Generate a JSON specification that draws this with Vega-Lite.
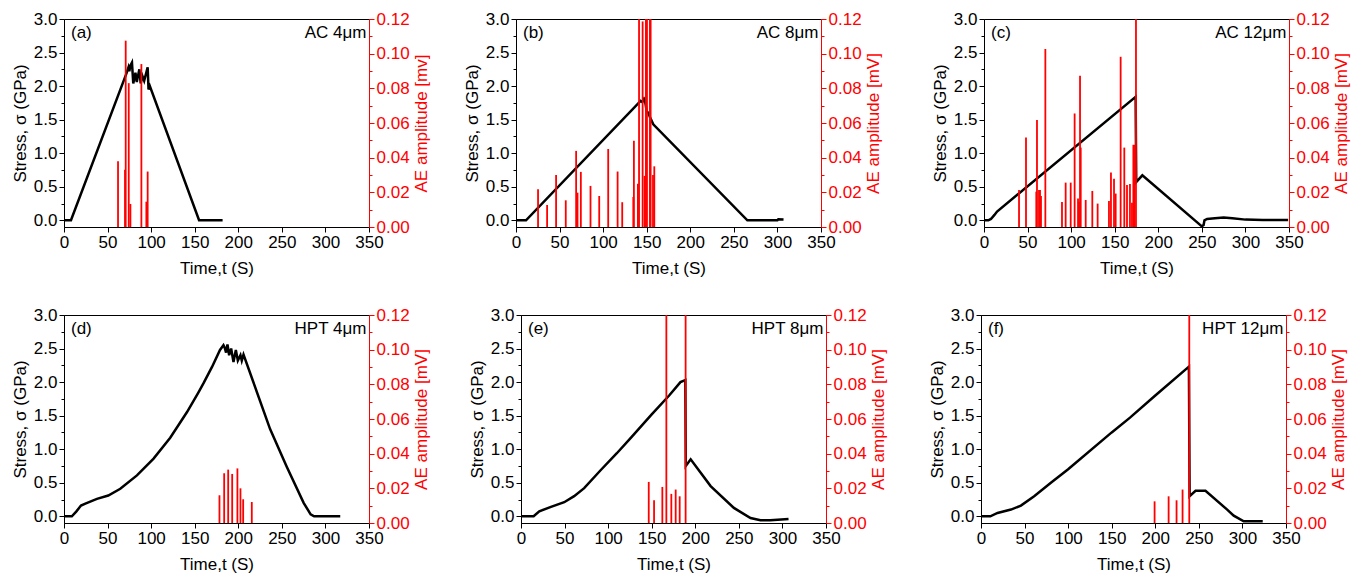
{
"$schema": "https://vega.github.io/schema/vega-lite/v6.json",
"padding": {"left": 10, "top": 9, "right": 2, "bottom": 2},
"background": "white",
"datasets": {
"stress": [
{"panel":"a","t":0,"s":0},{"panel":"a","t":8,"s":0},{"panel":"a","t":72,"s":2.2},{"panel":"a","t":74,"s":2.28},{"panel":"a","t":75,"s":2.22},{"panel":"a","t":76,"s":2.3},{"panel":"a","t":78,"s":2.35},{"panel":"a","t":79.5,"s":2.04},{"panel":"a","t":82,"s":2.2},{"panel":"a","t":83.5,"s":2.06},{"panel":"a","t":86.5,"s":2.25},{"panel":"a","t":88,"s":2.04},{"panel":"a","t":90,"s":2.15},{"panel":"a","t":92,"s":2.08},{"panel":"a","t":96,"s":2.28},{"panel":"a","t":97,"s":1.95},{"panel":"a","t":98.5,"s":2.0},{"panel":"a","t":155,"s":0},{"panel":"a","t":182,"s":0},
{"panel":"b","t":0,"s":0},{"panel":"b","t":11.5,"s":0},{"panel":"b","t":143,"s":1.78},{"panel":"b","t":145,"s":1.76},{"panel":"b","t":147,"s":1.81},{"panel":"b","t":148,"s":1.79},{"panel":"b","t":150,"s":1.62},{"panel":"b","t":152,"s":1.6},{"panel":"b","t":153,"s":1.56},{"panel":"b","t":155,"s":1.5},{"panel":"b","t":157.5,"s":1.43},{"panel":"b","t":265.5,"s":0},{"panel":"b","t":300,"s":0},{"panel":"b","t":301,"s":0.015},{"panel":"b","t":307,"s":0.012},
{"panel":"c","t":0,"s":0},{"panel":"c","t":5,"s":0},{"panel":"c","t":8,"s":0.02},{"panel":"c","t":12,"s":0.08},{"panel":"c","t":15,"s":0.13},{"panel":"c","t":174,"s":1.84},{"panel":"c","t":174.7,"s":0.57},{"panel":"c","t":181.7,"s":0.67},{"panel":"c","t":250,"s":-0.09},{"panel":"c","t":252,"s":-0.07},{"panel":"c","t":253,"s":0},{"panel":"c","t":256,"s":0.02},{"panel":"c","t":265,"s":0.03},{"panel":"c","t":275,"s":0.04},{"panel":"c","t":285,"s":0.03},{"panel":"c","t":300,"s":0.01},{"panel":"c","t":320,"s":0.005},{"panel":"c","t":349,"s":0.005},
{"panel":"d","t":0,"s":0},{"panel":"d","t":9,"s":0},{"panel":"d","t":14,"s":0.07},{"panel":"d","t":19.5,"s":0.16},{"panel":"d","t":24.5,"s":0.19},{"panel":"d","t":37.8,"s":0.26},{"panel":"d","t":50.8,"s":0.31},{"panel":"d","t":64.6,"s":0.41},{"panel":"d","t":83.7,"s":0.61},{"panel":"d","t":102.8,"s":0.86},{"panel":"d","t":121.9,"s":1.17},{"panel":"d","t":141,"s":1.55},{"panel":"d","t":154,"s":1.84},{"panel":"d","t":160,"s":1.98},{"panel":"d","t":170,"s":2.23},{"panel":"d","t":179,"s":2.48},{"panel":"d","t":183,"s":2.55},{"panel":"d","t":184.2,"s":2.52},{"panel":"d","t":186,"s":2.44},{"panel":"d","t":187.6,"s":2.56},{"panel":"d","t":189.5,"s":2.4},{"panel":"d","t":191.8,"s":2.5},{"panel":"d","t":194.5,"s":2.3},{"panel":"d","t":197.2,"s":2.48},{"panel":"d","t":199.5,"s":2.32},{"panel":"d","t":202.5,"s":2.4},{"panel":"d","t":204,"s":2.32},{"panel":"d","t":206,"s":2.41},{"panel":"d","t":236.5,"s":1.3},{"panel":"d","t":255.6,"s":0.74},{"panel":"d","t":275,"s":0.2},{"panel":"d","t":283,"s":0.03},{"panel":"d","t":287,"s":0},{"panel":"d","t":317,"s":0},
{"panel":"e","t":0,"s":0},{"panel":"e","t":14.5,"s":0},{"panel":"e","t":21,"s":0.075},{"panel":"e","t":34.4,"s":0.14},{"panel":"e","t":49.6,"s":0.21},{"panel":"e","t":61,"s":0.3},{"panel":"e","t":72.5,"s":0.42},{"panel":"e","t":91.6,"s":0.69},{"panel":"e","t":110,"s":0.94},{"panel":"e","t":126,"s":1.17},{"panel":"e","t":150,"s":1.52},{"panel":"e","t":170,"s":1.8},{"panel":"e","t":183,"s":2.0},{"panel":"e","t":188.6,"s":2.03},{"panel":"e","t":189.1,"s":0.75},{"panel":"e","t":194.7,"s":0.85},{"panel":"e","t":217.6,"s":0.45},{"panel":"e","t":244.3,"s":0.125},{"panel":"e","t":263.4,"s":-0.025},{"panel":"e","t":274.8,"s":-0.06},{"panel":"e","t":286,"s":-0.06},{"panel":"e","t":307,"s":-0.04},
{"panel":"f","t":0,"s":0},{"panel":"f","t":10.7,"s":0},{"panel":"f","t":19,"s":0.05},{"panel":"f","t":34.4,"s":0.1},{"panel":"f","t":45.8,"s":0.16},{"panel":"f","t":61,"s":0.3},{"panel":"f","t":80.2,"s":0.5},{"panel":"f","t":100,"s":0.7},{"panel":"f","t":150,"s":1.25},{"panel":"f","t":171,"s":1.47},{"panel":"f","t":200,"s":1.8},{"panel":"f","t":238.6,"s":2.23},{"panel":"f","t":239.4,"s":0.3},{"panel":"f","t":246.2,"s":0.38},{"panel":"f","t":257.6,"s":0.38},{"panel":"f","t":282.5,"s":0.1},{"panel":"f","t":290,"s":0.01},{"panel":"f","t":301.5,"s":-0.075},{"panel":"f","t":323.3,"s":-0.075}
],
"ae": [
{"panel":"a","t":62,"amp":0.038},{"panel":"a","t":70,"amp":0.033},{"panel":"a","t":70.8,"amp":0.1075},{"panel":"a","t":74.3,"amp":0.083},{"panel":"a","t":76.2,"amp":0.0133},{"panel":"a","t":88.8,"amp":0.094},{"panel":"a","t":94.5,"amp":0.0146},{"panel":"a","t":96,"amp":0.032},
{"panel":"b","t":25.3,"amp":0.0218},{"panel":"b","t":35.7,"amp":0.0127},{"panel":"b","t":46,"amp":0.03},{"panel":"b","t":57.1,"amp":0.0154},{"panel":"b","t":69,"amp":0.0439},{"panel":"b","t":70.6,"amp":0.0198},{"panel":"b","t":74.4,"amp":0.0318},{"panel":"b","t":85.5,"amp":0.0237},{"panel":"b","t":95.5,"amp":0.0179},{"panel":"b","t":105.8,"amp":0.045},{"panel":"b","t":116.6,"amp":0.032},{"panel":"b","t":121.9,"amp":0.0143},{"panel":"b","t":134.6,"amp":0.0173},{"panel":"b","t":135.3,"amp":0.0497},{"panel":"b","t":139.9,"amp":0.025},{"panel":"b","t":141.2,"amp":0.12},{"panel":"b","t":145.3,"amp":0.1186},{"panel":"b","t":147.6,"amp":0.0295},{"panel":"b","t":149.1,"amp":0.12},{"panel":"b","t":150.3,"amp":0.12},{"panel":"b","t":153.7,"amp":0.12},{"panel":"b","t":154.5,"amp":0.12},{"panel":"b","t":157.2,"amp":0.03},{"panel":"b","t":158.7,"amp":0.035},
{"panel":"c","t":40.2,"amp":0.0214},{"panel":"c","t":48.2,"amp":0.0516},{"panel":"c","t":60,"amp":0.0204},{"panel":"c","t":60.8,"amp":0.0618},{"panel":"c","t":63.1,"amp":0.0214},{"panel":"c","t":64.3,"amp":0.0214},{"panel":"c","t":65.4,"amp":0.0179},{"panel":"c","t":70.4,"amp":0.1027},{"panel":"c","t":89.5,"amp":0.0144},{"panel":"c","t":93.7,"amp":0.0256},{"panel":"c","t":99.5,"amp":0.0256},{"panel":"c","t":104,"amp":0.0655},{"panel":"c","t":107.9,"amp":0.0164},{"panel":"c","t":109,"amp":0.0146},{"panel":"c","t":110.2,"amp":0.0872},{"panel":"c","t":111,"amp":0.0458},{"panel":"c","t":116.7,"amp":0.0156},{"panel":"c","t":124.3,"amp":0.0208},{"panel":"c","t":130.4,"amp":0.0135},{"panel":"c","t":143.4,"amp":0.015},{"panel":"c","t":145.7,"amp":0.0314},{"panel":"c","t":149.2,"amp":0.0279},{"panel":"c","t":151.1,"amp":0.0193},{"panel":"c","t":156.8,"amp":0.0982},{"panel":"c","t":161,"amp":0.0458},{"panel":"c","t":164.1,"amp":0.0243},{"panel":"c","t":167.5,"amp":0.0248},{"panel":"c","t":169.8,"amp":0.014},{"panel":"c","t":171.4,"amp":0.0474},{"panel":"c","t":172.5,"amp":0.0474},{"panel":"c","t":174.4,"amp":0.12},
{"panel":"d","t":178.4,"amp":0.016},{"panel":"d","t":183.8,"amp":0.0287},{"panel":"d","t":188.4,"amp":0.0308},{"panel":"d","t":193,"amp":0.0283},{"panel":"d","t":199,"amp":0.0315},{"panel":"d","t":202.5,"amp":0.02},{"panel":"d","t":205.6,"amp":0.0137},{"panel":"d","t":215.5,"amp":0.0121},
{"panel":"e","t":146.6,"amp":0.0237},{"panel":"e","t":152.7,"amp":0.0131},{"panel":"e","t":162.2,"amp":0.0208},{"panel":"e","t":166.8,"amp":0.12},{"panel":"e","t":172.5,"amp":0.0168},{"panel":"e","t":177.5,"amp":0.0193},{"panel":"e","t":182.1,"amp":0.0154},{"panel":"e","t":188.9,"amp":0.12},
{"panel":"f","t":199.2,"amp":0.0125},{"panel":"f","t":215.3,"amp":0.0154},{"panel":"f","t":224.4,"amp":0.0131},{"panel":"f","t":231.3,"amp":0.0193},{"panel":"f","t":239,"amp":0.12}
],
"labels": [
{"panel":"a","tag":"(a)","name":"AC 4μm"},
{"panel":"b","tag":"(b)","name":"AC 8μm"},
{"panel":"c","tag":"(c)","name":"AC 12μm"},
{"panel":"d","tag":"(d)","name":"HPT 4μm"},
{"panel":"e","tag":"(e)","name":"HPT 8μm"},
{"panel":"f","tag":"(f)","name":"HPT 12μm"}
]
},
"spacing": 28,
"vconcat": [
{"spacing": 32, "hconcat": [
{"width":305,"height":208,"resolve":{"scale":{"y":"independent"}},"layer":[
{"data":{"name":"stress"},"transform":[{"filter":"datum.panel === 'a'"}],"mark":{"type":"line","color":"black","strokeWidth":2.5,"clip":true},
"encoding":{"x":{"field":"t","type":"quantitative","scale":{"domain":[0,350],"nice":false},"axis":{"title":"Time,t (S)","values":[0,25,50,75,100,125,150,175,200,225,250,275,300,325,350],"labelExpr":"datum.value % 50 === 0 ? datum.label : ''","tickSize":{"condition":{"test":"datum.value % 50 === 0","value":5},"value":3},"titlePadding":10,"format":"d"}},
"y":{"field":"s","type":"quantitative","scale":{"domain":[-0.1,3],"nice":false,"zero":false},"axis":{"orient":"left","title":"Stress, σ (GPa)","values":[0,0.25,0.5,0.75,1,1.25,1.5,1.75,2,2.25,2.5,2.75,3],"labelExpr":"(datum.value*2) % 1 === 0 ? format(datum.value, '.1f') : ''","tickSize":{"condition":{"test":"(datum.value*2) % 1 === 0","value":5},"value":3}}}}},
{"data":{"name":"ae"},"transform":[{"filter":"datum.panel === 'a'"}],"mark":{"type":"rule","color":"red","strokeWidth":1.8,"clip":true},
"encoding":{"x":{"field":"t","type":"quantitative","scale":{"domain":[0,350],"nice":false}},
"y":{"field":"amp","type":"quantitative","scale":{"domain":[0,0.12],"nice":false},"axis":{"orient":"right","title":"AE amplitude [mv]","titleAngle":270,"titleBaseline":"top","values":[0,0.01,0.02,0.03,0.04,0.05,0.06,0.07,0.08,0.09,0.1,0.11,0.12],"labelExpr":"round(datum.value*100) % 2 === 0 ? format(datum.value, '.2f') : ''","tickSize":{"condition":{"test":"round(datum.value*100) % 2 === 0","value":5},"value":3}}},
"y2":{"datum":0}}},
{"data":{"name":"labels"},"transform":[{"filter":"datum.panel === 'a'"}],"mark":{"type":"text","align":"left","baseline":"middle","fontSize":17,"font":"Liberation Sans","color":"black"},
"encoding":{"x":{"datum":8,"scale":{"domain":[0,350],"nice":false}},"y":{"datum":2.79,"scale":{"domain":[-0.1,3],"nice":false,"zero":false},"axis":null},"text":{"field":"tag"}}},
{"data":{"name":"labels"},"transform":[{"filter":"datum.panel === 'a'"}],"mark":{"type":"text","align":"right","baseline":"middle","fontSize":17,"font":"Liberation Sans","color":"black"},
"encoding":{"x":{"datum":347,"scale":{"domain":[0,350],"nice":false}},"y":{"datum":2.79,"scale":{"domain":[-0.1,3],"nice":false,"zero":false},"axis":null},"text":{"field":"name"}}}
]},
{"spacing": 48, "hconcat": [
{"width":305,"height":208,"resolve":{"scale":{"y":"independent"}},"layer":[
{"data":{"name":"stress"},"transform":[{"filter":"datum.panel === 'b'"}],"mark":{"type":"line","color":"black","strokeWidth":2.5,"clip":true},
"encoding":{"x":{"field":"t","type":"quantitative","scale":{"domain":[0,350],"nice":false},"axis":{"title":"Time,t (S)","values":[0,25,50,75,100,125,150,175,200,225,250,275,300,325,350],"labelExpr":"datum.value % 50 === 0 ? datum.label : ''","tickSize":{"condition":{"test":"datum.value % 50 === 0","value":5},"value":3},"titlePadding":10,"format":"d"}},
"y":{"field":"s","type":"quantitative","scale":{"domain":[-0.1,3],"nice":false,"zero":false},"axis":{"orient":"left","title":"Stress, σ (GPa)","values":[0,0.25,0.5,0.75,1,1.25,1.5,1.75,2,2.25,2.5,2.75,3],"labelExpr":"(datum.value*2) % 1 === 0 ? format(datum.value, '.1f') : ''","tickSize":{"condition":{"test":"(datum.value*2) % 1 === 0","value":5},"value":3}}}}},
{"data":{"name":"ae"},"transform":[{"filter":"datum.panel === 'b'"}],"mark":{"type":"rule","color":"red","strokeWidth":1.8,"clip":true},
"encoding":{"x":{"field":"t","type":"quantitative","scale":{"domain":[0,350],"nice":false}},
"y":{"field":"amp","type":"quantitative","scale":{"domain":[0,0.12],"nice":false},"axis":{"orient":"right","title":"AE amplitude [mV]","titleAngle":270,"titleBaseline":"top","values":[0,0.01,0.02,0.03,0.04,0.05,0.06,0.07,0.08,0.09,0.1,0.11,0.12],"labelExpr":"round(datum.value*100) % 2 === 0 ? format(datum.value, '.2f') : ''","tickSize":{"condition":{"test":"round(datum.value*100) % 2 === 0","value":5},"value":3}}},
"y2":{"datum":0}}},
{"data":{"name":"labels"},"transform":[{"filter":"datum.panel === 'b'"}],"mark":{"type":"text","align":"left","baseline":"middle","fontSize":17,"font":"Liberation Sans","color":"black"},
"encoding":{"x":{"datum":8,"scale":{"domain":[0,350],"nice":false}},"y":{"datum":2.79,"scale":{"domain":[-0.1,3],"nice":false,"zero":false},"axis":null},"text":{"field":"tag"}}},
{"data":{"name":"labels"},"transform":[{"filter":"datum.panel === 'b'"}],"mark":{"type":"text","align":"right","baseline":"middle","fontSize":17,"font":"Liberation Sans","color":"black"},
"encoding":{"x":{"datum":347,"scale":{"domain":[0,350],"nice":false}},"y":{"datum":2.79,"scale":{"domain":[-0.1,3],"nice":false,"zero":false},"axis":null},"text":{"field":"name"}}}
]},
{"width":305,"height":208,"resolve":{"scale":{"y":"independent"}},"layer":[
{"data":{"name":"stress"},"transform":[{"filter":"datum.panel === 'c'"}],"mark":{"type":"line","color":"black","strokeWidth":2.5,"clip":true},
"encoding":{"x":{"field":"t","type":"quantitative","scale":{"domain":[0,350],"nice":false},"axis":{"title":"Time,t (S)","values":[0,25,50,75,100,125,150,175,200,225,250,275,300,325,350],"labelExpr":"datum.value % 50 === 0 ? datum.label : ''","tickSize":{"condition":{"test":"datum.value % 50 === 0","value":5},"value":3},"titlePadding":10,"format":"d"}},
"y":{"field":"s","type":"quantitative","scale":{"domain":[-0.1,3],"nice":false,"zero":false},"axis":{"orient":"left","title":"Stress, σ (GPa)","values":[0,0.25,0.5,0.75,1,1.25,1.5,1.75,2,2.25,2.5,2.75,3],"labelExpr":"(datum.value*2) % 1 === 0 ? format(datum.value, '.1f') : ''","tickSize":{"condition":{"test":"(datum.value*2) % 1 === 0","value":5},"value":3}}}}},
{"data":{"name":"ae"},"transform":[{"filter":"datum.panel === 'c'"}],"mark":{"type":"rule","color":"red","strokeWidth":1.8,"clip":true},
"encoding":{"x":{"field":"t","type":"quantitative","scale":{"domain":[0,350],"nice":false}},
"y":{"field":"amp","type":"quantitative","scale":{"domain":[0,0.12],"nice":false},"axis":{"orient":"right","title":"AE amplitude [mV]","titleAngle":270,"titleBaseline":"top","values":[0,0.01,0.02,0.03,0.04,0.05,0.06,0.07,0.08,0.09,0.1,0.11,0.12],"labelExpr":"round(datum.value*100) % 2 === 0 ? format(datum.value, '.2f') : ''","tickSize":{"condition":{"test":"round(datum.value*100) % 2 === 0","value":5},"value":3}}},
"y2":{"datum":0}}},
{"data":{"name":"labels"},"transform":[{"filter":"datum.panel === 'c'"}],"mark":{"type":"text","align":"left","baseline":"middle","fontSize":17,"font":"Liberation Sans","color":"black"},
"encoding":{"x":{"datum":8,"scale":{"domain":[0,350],"nice":false}},"y":{"datum":2.79,"scale":{"domain":[-0.1,3],"nice":false,"zero":false},"axis":null},"text":{"field":"tag"}}},
{"data":{"name":"labels"},"transform":[{"filter":"datum.panel === 'c'"}],"mark":{"type":"text","align":"right","baseline":"middle","fontSize":17,"font":"Liberation Sans","color":"black"},
"encoding":{"x":{"datum":347,"scale":{"domain":[0,350],"nice":false}},"y":{"datum":2.79,"scale":{"domain":[-0.1,3],"nice":false,"zero":false},"axis":null},"text":{"field":"name"}}}
]}
]}
]},
{"spacing": 37, "hconcat": [
{"width":305,"height":208,"resolve":{"scale":{"y":"independent"}},"layer":[
{"data":{"name":"stress"},"transform":[{"filter":"datum.panel === 'd'"}],"mark":{"type":"line","color":"black","strokeWidth":2.5,"clip":true},
"encoding":{"x":{"field":"t","type":"quantitative","scale":{"domain":[0,350],"nice":false},"axis":{"title":"Time,t (S)","values":[0,25,50,75,100,125,150,175,200,225,250,275,300,325,350],"labelExpr":"datum.value % 50 === 0 ? datum.label : ''","tickSize":{"condition":{"test":"datum.value % 50 === 0","value":5},"value":3},"titlePadding":10,"format":"d"}},
"y":{"field":"s","type":"quantitative","scale":{"domain":[-0.1,3],"nice":false,"zero":false},"axis":{"orient":"left","title":"Stress, σ (GPa)","values":[0,0.25,0.5,0.75,1,1.25,1.5,1.75,2,2.25,2.5,2.75,3],"labelExpr":"(datum.value*2) % 1 === 0 ? format(datum.value, '.1f') : ''","tickSize":{"condition":{"test":"(datum.value*2) % 1 === 0","value":5},"value":3}}}}},
{"data":{"name":"ae"},"transform":[{"filter":"datum.panel === 'd'"}],"mark":{"type":"rule","color":"red","strokeWidth":1.8,"clip":true},
"encoding":{"x":{"field":"t","type":"quantitative","scale":{"domain":[0,350],"nice":false}},
"y":{"field":"amp","type":"quantitative","scale":{"domain":[0,0.12],"nice":false},"axis":{"orient":"right","title":"AE amplitude [mV]","titleAngle":270,"titleBaseline":"top","values":[0,0.01,0.02,0.03,0.04,0.05,0.06,0.07,0.08,0.09,0.1,0.11,0.12],"labelExpr":"round(datum.value*100) % 2 === 0 ? format(datum.value, '.2f') : ''","tickSize":{"condition":{"test":"round(datum.value*100) % 2 === 0","value":5},"value":3}}},
"y2":{"datum":0}}},
{"data":{"name":"labels"},"transform":[{"filter":"datum.panel === 'd'"}],"mark":{"type":"text","align":"left","baseline":"middle","fontSize":17,"font":"Liberation Sans","color":"black"},
"encoding":{"x":{"datum":8,"scale":{"domain":[0,350],"nice":false}},"y":{"datum":2.79,"scale":{"domain":[-0.1,3],"nice":false,"zero":false},"axis":null},"text":{"field":"tag"}}},
{"data":{"name":"labels"},"transform":[{"filter":"datum.panel === 'd'"}],"mark":{"type":"text","align":"right","baseline":"middle","fontSize":17,"font":"Liberation Sans","color":"black"},
"encoding":{"x":{"datum":347,"scale":{"domain":[0,350],"nice":false}},"y":{"datum":2.79,"scale":{"domain":[-0.1,3],"nice":false,"zero":false},"axis":null},"text":{"field":"name"}}}
]},
{"spacing": 40, "hconcat": [
{"width":305,"height":208,"resolve":{"scale":{"y":"independent"}},"layer":[
{"data":{"name":"stress"},"transform":[{"filter":"datum.panel === 'e'"}],"mark":{"type":"line","color":"black","strokeWidth":2.5,"clip":true},
"encoding":{"x":{"field":"t","type":"quantitative","scale":{"domain":[0,350],"nice":false},"axis":{"title":"Time,t (S)","values":[0,25,50,75,100,125,150,175,200,225,250,275,300,325,350],"labelExpr":"datum.value % 50 === 0 ? datum.label : ''","tickSize":{"condition":{"test":"datum.value % 50 === 0","value":5},"value":3},"titlePadding":10,"format":"d"}},
"y":{"field":"s","type":"quantitative","scale":{"domain":[-0.1,3],"nice":false,"zero":false},"axis":{"orient":"left","title":"Stress, σ (GPa)","values":[0,0.25,0.5,0.75,1,1.25,1.5,1.75,2,2.25,2.5,2.75,3],"labelExpr":"(datum.value*2) % 1 === 0 ? format(datum.value, '.1f') : ''","tickSize":{"condition":{"test":"(datum.value*2) % 1 === 0","value":5},"value":3}}}}},
{"data":{"name":"ae"},"transform":[{"filter":"datum.panel === 'e'"}],"mark":{"type":"rule","color":"red","strokeWidth":1.8,"clip":true},
"encoding":{"x":{"field":"t","type":"quantitative","scale":{"domain":[0,350],"nice":false}},
"y":{"field":"amp","type":"quantitative","scale":{"domain":[0,0.12],"nice":false},"axis":{"orient":"right","title":"AE amplitude [mV]","titleAngle":270,"titleBaseline":"top","values":[0,0.01,0.02,0.03,0.04,0.05,0.06,0.07,0.08,0.09,0.1,0.11,0.12],"labelExpr":"round(datum.value*100) % 2 === 0 ? format(datum.value, '.2f') : ''","tickSize":{"condition":{"test":"round(datum.value*100) % 2 === 0","value":5},"value":3}}},
"y2":{"datum":0}}},
{"data":{"name":"labels"},"transform":[{"filter":"datum.panel === 'e'"}],"mark":{"type":"text","align":"left","baseline":"middle","fontSize":17,"font":"Liberation Sans","color":"black"},
"encoding":{"x":{"datum":8,"scale":{"domain":[0,350],"nice":false}},"y":{"datum":2.79,"scale":{"domain":[-0.1,3],"nice":false,"zero":false},"axis":null},"text":{"field":"tag"}}},
{"data":{"name":"labels"},"transform":[{"filter":"datum.panel === 'e'"}],"mark":{"type":"text","align":"right","baseline":"middle","fontSize":17,"font":"Liberation Sans","color":"black"},
"encoding":{"x":{"datum":347,"scale":{"domain":[0,350],"nice":false}},"y":{"datum":2.79,"scale":{"domain":[-0.1,3],"nice":false,"zero":false},"axis":null},"text":{"field":"name"}}}
]},
{"width":305,"height":208,"resolve":{"scale":{"y":"independent"}},"layer":[
{"data":{"name":"stress"},"transform":[{"filter":"datum.panel === 'f'"}],"mark":{"type":"line","color":"black","strokeWidth":2.5,"clip":true},
"encoding":{"x":{"field":"t","type":"quantitative","scale":{"domain":[0,350],"nice":false},"axis":{"title":"Time,t (S)","values":[0,25,50,75,100,125,150,175,200,225,250,275,300,325,350],"labelExpr":"datum.value % 50 === 0 ? datum.label : ''","tickSize":{"condition":{"test":"datum.value % 50 === 0","value":5},"value":3},"titlePadding":10,"format":"d"}},
"y":{"field":"s","type":"quantitative","scale":{"domain":[-0.1,3],"nice":false,"zero":false},"axis":{"orient":"left","title":"Stress, σ (GPa)","values":[0,0.25,0.5,0.75,1,1.25,1.5,1.75,2,2.25,2.5,2.75,3],"labelExpr":"(datum.value*2) % 1 === 0 ? format(datum.value, '.1f') : ''","tickSize":{"condition":{"test":"(datum.value*2) % 1 === 0","value":5},"value":3}}}}},
{"data":{"name":"ae"},"transform":[{"filter":"datum.panel === 'f'"}],"mark":{"type":"rule","color":"red","strokeWidth":1.8,"clip":true},
"encoding":{"x":{"field":"t","type":"quantitative","scale":{"domain":[0,350],"nice":false}},
"y":{"field":"amp","type":"quantitative","scale":{"domain":[0,0.12],"nice":false},"axis":{"orient":"right","title":"AE amplitude [mV]","titleAngle":270,"titleBaseline":"top","values":[0,0.01,0.02,0.03,0.04,0.05,0.06,0.07,0.08,0.09,0.1,0.11,0.12],"labelExpr":"round(datum.value*100) % 2 === 0 ? format(datum.value, '.2f') : ''","tickSize":{"condition":{"test":"round(datum.value*100) % 2 === 0","value":5},"value":3}}},
"y2":{"datum":0}}},
{"data":{"name":"labels"},"transform":[{"filter":"datum.panel === 'f'"}],"mark":{"type":"text","align":"left","baseline":"middle","fontSize":17,"font":"Liberation Sans","color":"black"},
"encoding":{"x":{"datum":8,"scale":{"domain":[0,350],"nice":false}},"y":{"datum":2.79,"scale":{"domain":[-0.1,3],"nice":false,"zero":false},"axis":null},"text":{"field":"tag"}}},
{"data":{"name":"labels"},"transform":[{"filter":"datum.panel === 'f'"}],"mark":{"type":"text","align":"right","baseline":"middle","fontSize":17,"font":"Liberation Sans","color":"black"},
"encoding":{"x":{"datum":347,"scale":{"domain":[0,350],"nice":false}},"y":{"datum":2.79,"scale":{"domain":[-0.1,3],"nice":false,"zero":false},"axis":null},"text":{"field":"name"}}}
]}
]}
]}
],
"config": {
"font": "Liberation Sans",
"view": {"stroke": "black", "strokeWidth": 1},
"axis": {"labelFont": "Liberation Sans", "titleFont": "Liberation Sans", "labelFontSize": 17, "titleFontSize": 17, "titleFontWeight": "normal", "grid": false, "domainColor": "black", "tickColor": "black", "labelColor": "black", "titleColor": "black", "labelOverlap": false, "labelPadding": 2, "domainWidth": 1, "tickWidth": 1, "labelFlush": false},
"axisRight": {"domainColor": "red", "tickColor": "red", "labelColor": "red", "titleColor": "red"}
}
}
